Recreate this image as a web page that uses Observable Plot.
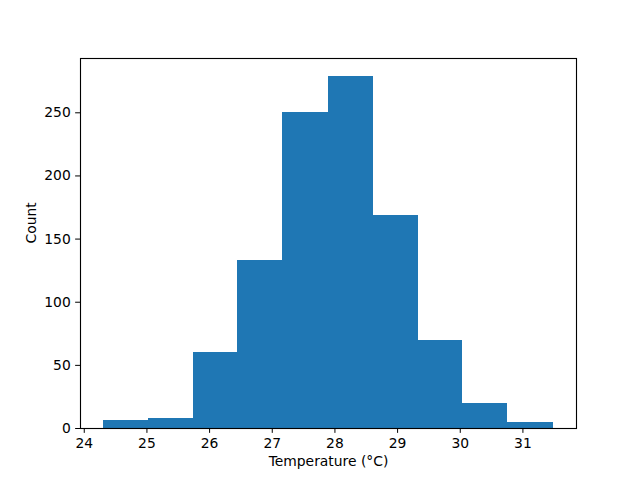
<!DOCTYPE html>
<html>
<head>
<meta charset="utf-8">
<script src="https://cdn.jsdelivr.net/npm/d3@7"></script>
<script src="https://cdn.jsdelivr.net/npm/@observablehq/plot@0.6"></script>
<style>
  html, body { margin: 0; padding: 0; background: #fff; }
</style>
</head>
<body>
<div id="chart"></div>
<script>
const binEdges = [24.30, 25.02, 25.74, 26.45, 27.17, 27.89, 28.61, 29.33, 30.04, 30.76, 31.48];
const counts = [6, 8, 60, 133, 250, 279, 169, 70, 20, 5];
const xTicks = [24, 25, 26, 27, 28, 29, 30, 31];
const yTicks = [0, 50, 100, 150, 200, 250];
const xLabel = "Temperature (°C)";
const yLabel = "Count";

const bins = counts.map((c, i) => ({x1: binEdges[i], x2: binEdges[i + 1], count: c}));

const chart = Plot.plot({
  width: 640,
  height: 480,
  marginLeft: 80,
  marginRight: 64,
  marginTop: 58,
  marginBottom: 52,
  style: {fontFamily: "DejaVu Sans", fontSize: "13.89px", background: "#fff", color: "#000"},
  x: {domain: [23.94, 31.855]},
  y: {domain: [0, 293]},
  marks: [
    Plot.rectY(bins, {x1: "x1", x2: "x2", y: "count", fill: "#1f77b4", inset: 0, shapeRendering: "crispEdges"}),
    Plot.frame({stroke: "#000", strokeWidth: 1.11}),
    Plot.axisX({ticks: xTicks, tickSize: 4.86, tickPadding: 4.86, tickFormat: d => String(d), label: null, fontSize: 13.89}),
    Plot.axisY({ticks: yTicks, tickSize: 4.86, tickPadding: 4.86, tickFormat: d => String(d), label: null, fontSize: 13.89}),
    Plot.text([xLabel], {frameAnchor: "bottom", dy: 37, fontSize: 13.89}),
    Plot.text([yLabel], {frameAnchor: "left", dx: -49, rotate: -90, fontSize: 13.89})
  ]
});
document.getElementById("chart").appendChild(chart);
</script>
</body>
</html>
